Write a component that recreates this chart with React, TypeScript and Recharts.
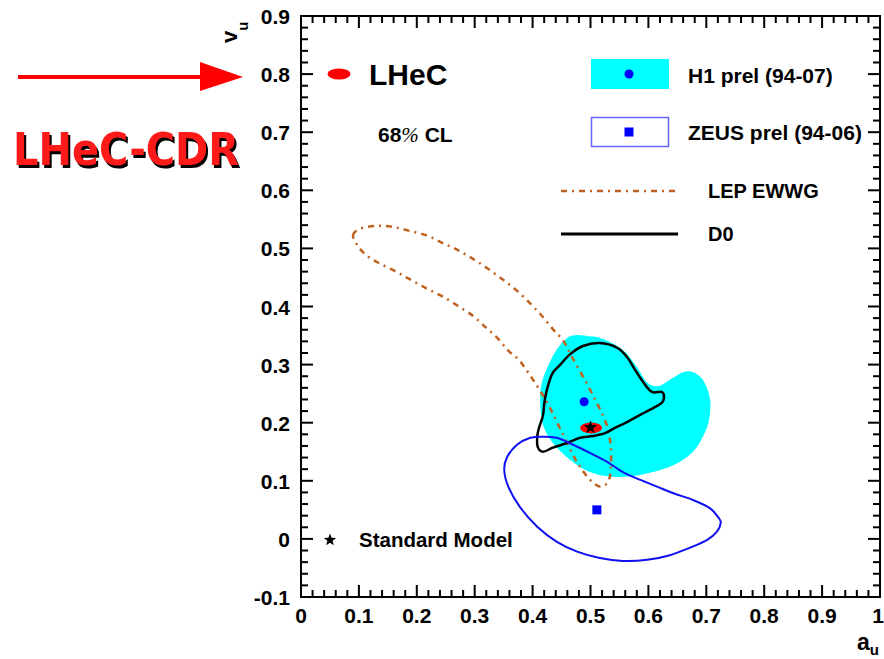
import React from "react";
import { ScatterChart, Scatter, XAxis, YAxis, ReferenceArea } from "recharts";

// chart box and plot frame (page pixels, chart sits at 0,0)
const W = 884;
const H = 659;
const M = { top: 16, right: 4, left: 301, bottom: 62 };
const PLOT_W = W - M.left - M.right;
const PLOT_H = H - M.top - M.bottom;

const FONT = "'Liberation Sans', Arial, Helvetica, sans-serif";

// axis ticks
const xMajor = [0, 0.1, 0.2, 0.3, 0.4, 0.5, 0.6, 0.7, 0.8, 0.9, 1];
const yMajor = [-0.1, 0, 0.1, 0.2, 0.3, 0.4, 0.5, 0.6, 0.7, 0.8, 0.9];
const withMinor = (major: number[]) => {
  const out: number[] = [];
  for (let i = 0; i < major.length - 1; i++) {
    for (let k = 0; k < 5; k++) out.push(Math.round((major[i] + k * 0.02) * 100) / 100);
  }
  out.push(major[major.length - 1]);
  return out;
};
const xTicks = withMinor(xMajor);
const yTicks = withMinor(yMajor);

// 68% CL contours, [a_u, v_u]
const h1Contour = [
  [0.468, 0.35], [0.499, 0.349], [0.522, 0.344], [0.556, 0.325], [0.58, 0.296], [0.598, 0.269],
  [0.617, 0.263], [0.637, 0.274], [0.66, 0.287], [0.677, 0.287], [0.694, 0.274], [0.706, 0.244],
  [0.706, 0.213], [0.698, 0.184], [0.677, 0.15], [0.641, 0.126], [0.585, 0.11], [0.537, 0.107],
  [0.499, 0.115], [0.465, 0.136], [0.435, 0.165], [0.418, 0.196], [0.413, 0.234], [0.416, 0.269],
  [0.43, 0.305], [0.447, 0.333],
];
const lepContour = [
  [0.09, 0.523], [0.102, 0.534], [0.131, 0.539], [0.159, 0.537], [0.188, 0.53], [0.218, 0.522],
  [0.245, 0.509], [0.271, 0.497], [0.297, 0.482], [0.323, 0.465], [0.349, 0.446], [0.373, 0.427],
  [0.397, 0.404], [0.416, 0.384], [0.435, 0.361], [0.453, 0.341], [0.468, 0.313], [0.49, 0.274],
  [0.511, 0.234], [0.528, 0.196], [0.535, 0.158], [0.535, 0.119], [0.53, 0.098], [0.516, 0.09],
  [0.499, 0.102], [0.482, 0.124], [0.468, 0.148], [0.447, 0.191], [0.427, 0.231], [0.404, 0.269],
  [0.378, 0.306], [0.358, 0.324], [0.339, 0.346], [0.318, 0.365], [0.297, 0.384], [0.271, 0.401],
  [0.245, 0.417], [0.219, 0.43], [0.193, 0.444], [0.168, 0.458], [0.14, 0.472], [0.114, 0.487],
  [0.097, 0.506],
];
const d0Contour = [
  [0.516, 0.337], [0.546, 0.329], [0.563, 0.313], [0.577, 0.291], [0.591, 0.27], [0.606, 0.253],
  [0.623, 0.253], [0.627, 0.244], [0.623, 0.234], [0.608, 0.225], [0.585, 0.213], [0.563, 0.201],
  [0.542, 0.191], [0.525, 0.182], [0.504, 0.177], [0.482, 0.174], [0.459, 0.165], [0.435, 0.157],
  [0.418, 0.15], [0.409, 0.158], [0.408, 0.176], [0.411, 0.191], [0.418, 0.213], [0.421, 0.239],
  [0.427, 0.265], [0.435, 0.286], [0.447, 0.299], [0.465, 0.318], [0.487, 0.332],
];
const zeusContour = [
  [0.418, 0.176], [0.442, 0.174], [0.47, 0.162], [0.499, 0.148], [0.528, 0.133], [0.556, 0.115],
  [0.585, 0.102], [0.615, 0.09], [0.642, 0.079], [0.677, 0.067], [0.706, 0.053], [0.72, 0.038],
  [0.725, 0.028], [0.718, 0.012], [0.701, -0.002], [0.672, -0.015], [0.637, -0.028], [0.598, -0.036],
  [0.556, -0.038], [0.516, -0.033], [0.477, -0.022], [0.442, -0.005], [0.408, 0.021], [0.378, 0.055],
  [0.358, 0.09], [0.351, 0.119], [0.356, 0.141], [0.373, 0.162], [0.396, 0.174],
];

// central values
const h1Point = [0.489, 0.236];
const zeusPoint = [0.511, 0.05];
const lhecPoint = [0.501, 0.191];
const smPoint = [0.5, 0.192];

const toRows = (pts: number[][]) => pts.map(([a, v]) => ({ a, v }));

// smooth closed curve through the points (catmull-rom)
function closedPath(pts: { x: number; y: number }[]) {
  const n = pts.length;
  if (!n) return "";
  let d = `M${pts[0].x},${pts[0].y}`;
  for (let i = 0; i < n; i++) {
    const p0 = pts[(i - 1 + n) % n];
    const p1 = pts[i];
    const p2 = pts[(i + 1) % n];
    const p3 = pts[(i + 2) % n];
    const c1x = p1.x + (p2.x - p0.x) / 6;
    const c1y = p1.y + (p2.y - p0.y) / 6;
    const c2x = p2.x - (p3.x - p1.x) / 6;
    const c2y = p2.y - (p3.y - p1.y) / 6;
    d += ` C${c1x},${c1y} ${c2x},${c2y} ${p2.x},${p2.y}`;
  }
  return d + " Z";
}

const contourLine = (style: React.SVGProps<SVGPathElement>) => (props: any) =>
  <path d={closedPath(props.points || [])} {...style} />;

const noDot = () => <g />;

function starPath(cx: number, cy: number, R: number) {
  const r = R * 0.42;
  let d = "";
  for (let i = 0; i < 10; i++) {
    const rad = i % 2 === 0 ? R : r;
    const ang = -Math.PI / 2 + (i * Math.PI) / 5;
    d += `${i ? "L" : "M"}${cx + rad * Math.cos(ang)},${cy + rad * Math.sin(ang)}`;
  }
  return d + "Z";
}

const fmt = (v: number) => String(Math.round(v * 10) / 10);
const isMajor = (v: number) => Math.abs(v * 10 - Math.round(v * 10)) < 1e-6;

function XTick({ x, y, payload }: any) {
  const major = isMajor(payload.value);
  const len = major ? 12 : 7;
  return (
    <g>
      <line x1={x} y1={y} x2={x} y2={y - len} stroke="#000" strokeWidth={2} />
      <line x1={x} y1={y - PLOT_H} x2={x} y2={y - PLOT_H + len} stroke="#000" strokeWidth={2} />
      {major && (
        <text x={payload.value === 1 ? x - 2 : x} y={y + 26} textAnchor="middle" fontFamily={FONT} fontWeight="bold" fontSize={21} fill="#000">
          {fmt(payload.value)}
        </text>
      )}
    </g>
  );
}

function YTick({ x, y, payload }: any) {
  const major = isMajor(payload.value);
  const len = major ? 12 : 7;
  return (
    <g>
      <line x1={x} y1={y} x2={x + len} y2={y} stroke="#000" strokeWidth={2} />
      <line x1={x + PLOT_W} y1={y} x2={x + PLOT_W - len} y2={y} stroke="#000" strokeWidth={2} />
      {major && (
        <text x={x - 11} y={y + 8} textAnchor="end" fontFamily={FONT} fontWeight="bold" fontSize={21} fill="#000">
          {fmt(payload.value)}
        </text>
      )}
    </g>
  );
}

const LEP_COLOR = "#c0621f";
const LEP_DASH = "6 5 2 5";

function Overlay() {
  const txt = { fontFamily: FONT, fontWeight: "bold" as const, fill: "#000" };
  return (
    <svg width={W} height={H} style={{ position: "absolute", left: 0, top: 0, pointerEvents: "none" }}>
      {/* arrow + tag */}
      <line x1={18} y1={77} x2={204} y2={77} stroke="#ff0000" strokeWidth={4} />
      <polygon points="200,62 243,77 200,91" fill="#ff0000" />
      <text x={13} y={165} fontFamily="'DejaVu Sans', sans-serif" fontWeight="bold" fontSize={44}
        textLength={226} lengthAdjust="spacingAndGlyphs" fill="#ff1a1a"
        style={{ filter: "drop-shadow(2px 3px 0 #000)" }}>LHeC-CDR</text>

      {/* axis titles */}
      <text transform="translate(237,43) rotate(-90)" {...txt} fontSize={22}>
        v<tspan fontSize={15} dy={11}>u</tspan>
      </text>
      <text x={857} y={650} {...txt} fontSize={23}>
        a<tspan fontSize={15} dy={5}>u</tspan>
      </text>

      {/* legend */}
      <ellipse cx={339} cy={74} rx={11.5} ry={5.5} fill="#ff0000" />
      <text x={369} y={85} {...txt} fontSize={30}>LHeC</text>
      <text x={378} y={142} {...txt} fontSize={21}>
        68<tspan fontFamily="'Liberation Serif', serif" fontWeight="normal" fontStyle="italic">%</tspan> CL
      </text>

      <rect x={591} y={59} width={78} height={30} fill="#00ffff" />
      <circle cx={629} cy={74} r={4.5} fill="#0000ff" />
      <text x={688} y={83} {...txt} fontSize={21}>H1 prel (94-07)</text>

      <rect x={591.5} y={117.5} width={77} height={29} fill="#fff" stroke="#6464ff" strokeWidth={1.5} />
      <rect x={624.5} y={127.5} width={9} height={9} fill="#0000ff" />
      <text x={688} y={140} {...txt} fontSize={21}>ZEUS prel (94-06)</text>

      <line x1={561} y1={191} x2={678} y2={191} stroke={LEP_COLOR} strokeWidth={2.5} strokeDasharray={LEP_DASH} />
      <text x={708} y={198} {...txt} fontSize={20}>LEP EWWG</text>

      <line x1={561} y1={234} x2={678} y2={234} stroke="#000" strokeWidth={3} />
      <text x={708} y={241} {...txt} fontSize={20}>D0</text>

      <path d={starPath(330, 540, 6.5)} fill="#000" />
      <text x={359} y={547} {...txt} fontSize={20.5}>Standard Model</text>
    </svg>
  );
}

export default function App() {
  return (
    <div style={{ position: "absolute", left: 0, top: 0, width: W, height: H, background: "#fff" }}>
      <ScatterChart width={W} height={H} margin={{ top: M.top, right: M.right, left: 0, bottom: 0 }}>
        <XAxis type="number" dataKey="a" domain={[0, 1]} ticks={xTicks} interval={0} allowDataOverflow
          height={M.bottom} tickSize={0} tickMargin={0} tickLine={false} axisLine={false} tick={<XTick />} />
        <YAxis type="number" dataKey="v" domain={[-0.1, 0.9]} ticks={yTicks} interval={0} allowDataOverflow
          width={M.left} tickSize={0} tickMargin={0} tickLine={false} axisLine={false} tick={<YTick />} />

        <Scatter data={toRows(h1Contour)} shape={noDot} isAnimationActive={false}
          line={contourLine({ fill: "#00ffff", stroke: "none" })} />
        <Scatter data={toRows(lepContour)} shape={noDot} isAnimationActive={false}
          line={contourLine({ fill: "none", stroke: LEP_COLOR, strokeWidth: 2.5, strokeDasharray: LEP_DASH })} />
        <Scatter data={toRows(d0Contour)} shape={noDot} isAnimationActive={false}
          line={contourLine({ fill: "none", stroke: "#000", strokeWidth: 2.5 })} />
        <Scatter data={toRows(zeusContour)} shape={noDot} isAnimationActive={false}
          line={contourLine({ fill: "none", stroke: "#1010f0", strokeWidth: 2 })} />

        <Scatter data={toRows([h1Point])} isAnimationActive={false}
          shape={(p: any) => <circle cx={p.cx} cy={p.cy} r={4.5} fill="#0000ff" />} />
        <Scatter data={toRows([zeusPoint])} isAnimationActive={false}
          shape={(p: any) => <rect x={p.cx - 4.5} y={p.cy - 4.5} width={9} height={9} fill="#0000ff" />} />
        <Scatter data={toRows([lhecPoint])} isAnimationActive={false}
          shape={(p: any) => <ellipse cx={p.cx} cy={p.cy} rx={11} ry={5.5} fill="#ff0000" />} />
        <Scatter data={toRows([smPoint])} isAnimationActive={false}
          shape={(p: any) => <path d={starPath(p.cx, p.cy, 7)} fill="#000" />} />

        <ReferenceArea x1={0} x2={1} y1={-0.1} y2={0.9} fill="none" fillOpacity={0} stroke="#000" strokeWidth={2} ifOverflow="visible" />
      </ScatterChart>
      <Overlay />
    </div>
  );
}
